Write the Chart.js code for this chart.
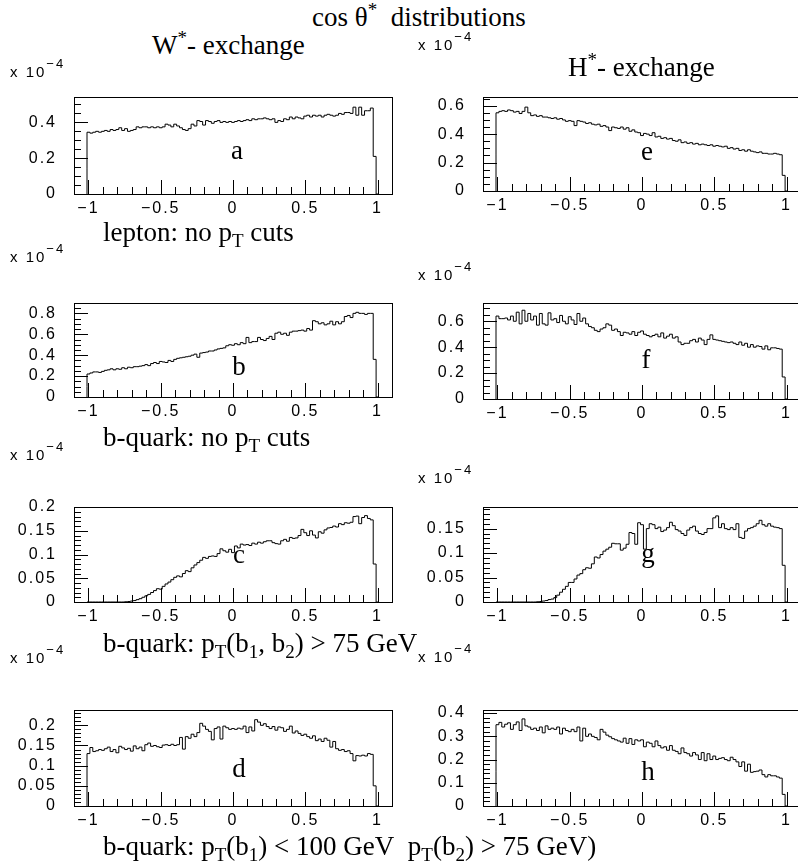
<!DOCTYPE html>
<html>
<head>
<meta charset="utf-8">
<script src="https://cdn.jsdelivr.net/npm/chart.js@4.4.0/dist/chart.umd.min.js"></script>
<style>
body { margin: 0; width: 798px; height: 866px; overflow: hidden; background: #fff; position: relative; }
canvas { position: absolute; }
.t { position: absolute; font-family: 'Liberation Serif', 'Times New Roman', serif; font-size: 27px; line-height: 27px; white-space: nowrap; color: #000; }
.t sub { font-size: 19px; vertical-align: -6px; line-height: 0; }
.t sup { font-size: 19px; vertical-align: 10px; line-height: 0; }
.m { position: absolute; font-family: 'Liberation Sans', Arial, sans-serif; font-size: 15px; line-height: 15px; letter-spacing: 2px; white-space: nowrap; color: #000; }
.m sup { font-size: 13px; position: relative; top: -9px; vertical-align: baseline; letter-spacing: 2px; }
.lt { text-align: center; width: 40px; }
</style>
</head>
<body>
<script>
// cos theta* bins: centres -1.00 ... 1.00, width 0.02 (end bins half filled)
const binWidth = 0.02;
const binCenters = [];
for (let i = 0; i <= 100; i++) binCenters.push(Math.round((-1 + i * binWidth) * 100) / 100);

const xTicks = [-1, -0.5, 0, 0.5, 1];
const xMinorTicks = [-1, -0.9, -0.8, -0.7, -0.6, -0.5, -0.4, -0.3, -0.2, -0.1, 0, 0.1, 0.2, 0.3, 0.4, 0.5, 0.6, 0.7, 0.8, 0.9, 1];

// values in units of 10^-4
// (a) W* exchange, lepton, no pT cuts
const wLepton = [0.14,
  0.345, 0.34, 0.345, 0.35, 0.345, 0.35, 0.355, 0.35, 0.36, 0.355,
  0.36, 0.37, 0.355, 0.365, 0.35, 0.355, 0.36, 0.375, 0.37, 0.375,
  0.375, 0.37, 0.375, 0.37, 0.375, 0.37, 0.375, 0.39, 0.385, 0.375,
  0.39, 0.38, 0.37, 0.36, 0.355, 0.365, 0.39, 0.38, 0.41, 0.405,
  0.385, 0.41, 0.405, 0.395, 0.405, 0.41, 0.40, 0.405, 0.40, 0.405,
  0.40, 0.405, 0.41, 0.405, 0.41, 0.415, 0.41, 0.42, 0.415, 0.42,
  0.42, 0.425, 0.42, 0.415, 0.42, 0.40, 0.41, 0.405, 0.42, 0.415,
  0.43, 0.42, 0.43, 0.425, 0.42, 0.435, 0.44, 0.43, 0.44, 0.435,
  0.44, 0.43, 0.44, 0.445, 0.44, 0.435, 0.44, 0.45, 0.445, 0.455,
  0.455, 0.45, 0.485, 0.44, 0.485, 0.44, 0.465, 0.465, 0.48, 0.21];
// (b) W* exchange, b-quark, no pT cuts
const wQuark = [0.10,
  0.22, 0.23, 0.24, 0.24, 0.235, 0.245, 0.255, 0.26, 0.27, 0.26,
  0.27, 0.265, 0.28, 0.27, 0.285, 0.28, 0.29, 0.29, 0.295, 0.30,
  0.31, 0.30, 0.32, 0.33, 0.32, 0.34, 0.335, 0.33, 0.35, 0.34,
  0.36, 0.37, 0.375, 0.38, 0.385, 0.39, 0.40, 0.41, 0.38, 0.42,
  0.425, 0.43, 0.44, 0.44, 0.45, 0.46, 0.465, 0.47, 0.49, 0.50,
  0.495, 0.51, 0.50, 0.52, 0.51, 0.57, 0.52, 0.53, 0.53, 0.57,
  0.55, 0.54, 0.56, 0.58, 0.55, 0.61, 0.62, 0.60, 0.61, 0.59,
  0.62, 0.63, 0.63, 0.635, 0.64, 0.63, 0.655, 0.64, 0.73, 0.72,
  0.70, 0.71, 0.69, 0.70, 0.725, 0.69, 0.72, 0.70, 0.72, 0.77,
  0.78, 0.76, 0.80, 0.81, 0.80, 0.80, 0.79, 0.80, 0.80, 0.36];
// (c) W* exchange, b-quark, pT(b1,b2) > 75 GeV
const wQuarkCut = [0,
  0, 0, 0, 0, 0, 0, 0, 0, 0, 0,
  0, 0, 0, 0.0005, 0.001, 0.002, 0.003, 0.005, 0.007, 0.010,
  0.013, 0.016, 0.020, 0.024, 0.028, 0.027, 0.033, 0.038, 0.042, 0.047,
  0.052, 0.055, 0.053, 0.060, 0.066, 0.064, 0.072, 0.078, 0.083, 0.088,
  0.094, 0.092, 0.096, 0.097, 0.096, 0.102, 0.112, 0.108, 0.105, 0.111,
  0.104, 0.118, 0.114, 0.122, 0.120, 0.121, 0.119, 0.124, 0.122, 0.126,
  0.124, 0.127, 0.129, 0.129, 0.125, 0.123, 0.122, 0.129, 0.132, 0.128,
  0.136, 0.134, 0.135, 0.140, 0.153, 0.146, 0.140, 0.150, 0.141, 0.135,
  0.148, 0.145, 0.152, 0.156, 0.157, 0.160, 0.158, 0.165, 0.163, 0.167,
  0.166, 0.168, 0.180, 0.181, 0.165, 0.178, 0.182, 0.176, 0.173, 0.080];
// (d) W* exchange, b-quark, pT(b1) < 100 GeV, pT(b2) > 75 GeV
const wQuarkMixed = [0.05,
  0.130, 0.145, 0.135, 0.137, 0.140, 0.138, 0.142, 0.146, 0.135, 0.140,
  0.132, 0.148, 0.144, 0.140, 0.143, 0.136, 0.149, 0.142, 0.146, 0.137,
  0.152, 0.156, 0.148, 0.150, 0.147, 0.145, 0.151, 0.152, 0.150, 0.153,
  0.150, 0.152, 0.170, 0.141, 0.172, 0.168, 0.178, 0.172, 0.182, 0.205,
  0.198, 0.190, 0.185, 0.164, 0.192, 0.196, 0.166, 0.198, 0.194, 0.190,
  0.192, 0.190, 0.193, 0.191, 0.198, 0.182, 0.196, 0.186, 0.214, 0.208,
  0.200, 0.204, 0.197, 0.192, 0.197, 0.188, 0.196, 0.194, 0.185, 0.190,
  0.198, 0.181, 0.186, 0.180, 0.175, 0.178, 0.172, 0.168, 0.174, 0.162,
  0.166, 0.160, 0.168, 0.163, 0.146, 0.160, 0.142, 0.138, 0.140, 0.135,
  0.137, 0.130, 0.112, 0.125, 0.124, 0.126, 0.124, 0.130, 0.128, 0.05];
// (e) H* exchange, lepton, no pT cuts
const hLepton = [0.26,
  0.55, 0.56, 0.565, 0.56, 0.57, 0.565, 0.555, 0.56, 0.545, 0.56,
  0.59, 0.55, 0.53, 0.535, 0.525, 0.53, 0.52, 0.52, 0.515, 0.51,
  0.515, 0.505, 0.51, 0.50, 0.49, 0.495, 0.49, 0.46, 0.495, 0.49,
  0.485, 0.475, 0.48, 0.47, 0.465, 0.47, 0.455, 0.46, 0.45, 0.425,
  0.45, 0.445, 0.44, 0.45, 0.435, 0.445, 0.42, 0.43, 0.415, 0.41,
  0.39, 0.405, 0.40, 0.39, 0.41, 0.38, 0.385, 0.37, 0.375, 0.365,
  0.37, 0.355, 0.35, 0.36, 0.34, 0.345, 0.335, 0.34, 0.33, 0.335,
  0.325, 0.33, 0.325, 0.32, 0.325, 0.315, 0.32, 0.315, 0.31, 0.315,
  0.30, 0.305, 0.295, 0.30, 0.285, 0.29, 0.28, 0.29, 0.28, 0.275,
  0.27, 0.275, 0.265, 0.265, 0.26, 0.26, 0.265, 0.26, 0.255, 0.11];
// (f) H* exchange, b-quark, no pT cuts
const hQuark = [0.27,
  0.64, 0.62, 0.62, 0.625, 0.61, 0.64, 0.60, 0.67, 0.58, 0.685,
  0.60, 0.66, 0.61, 0.64, 0.57, 0.66, 0.58, 0.57, 0.665, 0.61,
  0.62, 0.59, 0.645, 0.60, 0.58, 0.635, 0.61, 0.575, 0.66, 0.60,
  0.625, 0.58, 0.56, 0.55, 0.53, 0.52, 0.54, 0.55, 0.58, 0.57,
  0.53, 0.54, 0.52, 0.49, 0.515, 0.51, 0.50, 0.52, 0.49, 0.515,
  0.525, 0.50, 0.49, 0.48, 0.49, 0.50, 0.48, 0.51, 0.47, 0.485,
  0.50, 0.47, 0.48, 0.44, 0.42, 0.43, 0.43, 0.45, 0.46, 0.44,
  0.47, 0.455, 0.42, 0.46, 0.495, 0.46, 0.455, 0.45, 0.445, 0.44,
  0.435, 0.44, 0.43, 0.42, 0.44, 0.415, 0.43, 0.40, 0.42, 0.40,
  0.41, 0.405, 0.385, 0.41, 0.38, 0.395, 0.395, 0.39, 0.385, 0.17];
// (g) H* exchange, b-quark, pT(b1,b2) > 75 GeV
const hQuarkCut = [0,
  0, 0, 0, 0, 0, 0, 0, 0, 0, 0,
  0, 0, 0, 0, 0.0005, 0.001, 0.002, 0.003, 0.005, 0.006,
  0.009, 0.014, 0.020, 0.026, 0.032, 0.040, 0.040, 0.047, 0.055, 0.058,
  0.066, 0.070, 0.069, 0.078, 0.092, 0.090, 0.097, 0.104, 0.108, 0.112,
  0.120, 0.119, 0.119, 0.106, 0.110, 0.118, 0.142, 0.140, 0.118, 0.162,
  0.158, 0.108, 0.150, 0.160, 0.158, 0.150, 0.153, 0.144, 0.147, 0.152,
  0.163, 0.156, 0.148, 0.145, 0.140, 0.136, 0.147, 0.152, 0.155, 0.145,
  0.140, 0.138, 0.142, 0.150, 0.150, 0.172, 0.176, 0.152, 0.160, 0.150,
  0.148, 0.152, 0.148, 0.160, 0.132, 0.130, 0.145, 0.150, 0.152, 0.155,
  0.160, 0.167, 0.158, 0.155, 0.160, 0.155, 0.153, 0.152, 0.150, 0.075];
// (h) H* exchange, b-quark, pT(b1) < 100 GeV, pT(b2) > 75 GeV
const hQuarkMixed = [0.15,
  0.350, 0.360, 0.340, 0.352, 0.358, 0.330, 0.350, 0.362, 0.325, 0.375,
  0.345, 0.340, 0.330, 0.335, 0.325, 0.340, 0.315, 0.345, 0.330, 0.335,
  0.330, 0.340, 0.310, 0.335, 0.325, 0.320, 0.330, 0.320, 0.340, 0.280,
  0.335, 0.300, 0.310, 0.300, 0.295, 0.285, 0.330, 0.318, 0.305, 0.298,
  0.290, 0.285, 0.280, 0.275, 0.292, 0.270, 0.290, 0.265, 0.285, 0.280,
  0.285, 0.255, 0.275, 0.270, 0.255, 0.280, 0.260, 0.250, 0.255, 0.240,
  0.260, 0.240, 0.235, 0.225, 0.250, 0.230, 0.225, 0.215, 0.230, 0.220,
  0.200, 0.230, 0.195, 0.225, 0.200, 0.215, 0.200, 0.205, 0.208, 0.200,
  0.195, 0.210, 0.200, 0.190, 0.170, 0.190, 0.150, 0.180, 0.145, 0.148,
  0.150, 0.155, 0.135, 0.125, 0.135, 0.130, 0.130, 0.125, 0.120, 0.05];

const yTicksA = [0, 0.2, 0.4];
const yTicksB = [0, 0.2, 0.4, 0.6, 0.8];
const yTicksC = [0, 0.05, 0.1, 0.15, 0.2];
const yTicksD = [0, 0.05, 0.1, 0.15, 0.2];
const yTicksE = [0, 0.2, 0.4, 0.6];
const yTicksF = [0, 0.2, 0.4, 0.6];
const yTicksG = [0, 0.05, 0.1, 0.15];
const yTicksH = [0, 0.1, 0.2, 0.3, 0.4];

const panels = [
  { values: wLepton,     ticks: yTicksA, minor: 0.05, ymax: 0.544, left: 0,   top: 80,  bottom: 194 },
  { values: wQuark,      ticks: yTicksB, minor: 0.05, ymax: 0.903, left: 0,   top: 286, bottom: 397 },
  { values: wQuarkCut,   ticks: yTicksC, minor: 0.01, ymax: 0.201, left: 0,   top: 490, bottom: 602 },
  { values: wQuarkMixed, ticks: yTicksD, minor: 0.01, ymax: 0.239, left: 0,   top: 693, bottom: 806 },
  { values: hLepton,     ticks: yTicksE, minor: 0.05, ymax: 0.664, left: 409, top: 80,  bottom: 191 },
  { values: hQuark,      ticks: yTicksF, minor: 0.05, ymax: 0.744, left: 409, top: 286, bottom: 399 },
  { values: hQuarkCut,   ticks: yTicksG, minor: 0.01, ymax: 0.195, left: 409, top: 490, bottom: 602 },
  { values: hQuarkMixed, ticks: yTicksH, minor: 0.02, ymax: 0.415, left: 409, top: 693, bottom: 806 }
];

function histPoints(values) {
  const pts = [{ x: binCenters[0] - binWidth / 2, y: 0 }];
  values.forEach((v, i) => pts.push({ x: binCenters[i] - binWidth / 2, y: v }));
  pts.push({ x: binCenters[values.length - 1] + binWidth / 2, y: 0 });
  return pts;
}

function fmt(v) {
  const s = String(Number(Math.abs(v).toFixed(3)));
  return v < 0 ? '\u2212' + s : s;
}

// PAW style frame with inward ticks
const frameTicks = {
  id: 'frameTicks',
  afterDatasetsDraw(chart, args, opts) {
    const { ctx, chartArea: a, scales: { x, y } } = chart;
    ctx.save();
    ctx.strokeStyle = '#000';
    ctx.lineWidth = 1;
    ctx.beginPath();
    xMinorTicks.forEach(v => {
      const px = Math.round(x.getPixelForValue(v)) + 0.5;
      const len = xTicks.includes(v) ? 14 : 7;
      ctx.moveTo(px, a.bottom);
      ctx.lineTo(px, a.bottom - len);
    });
    const n = Math.floor(opts.ymax / opts.minor + 1e-6);
    for (let k = 0; k <= n; k++) {
      const v = k * opts.minor;
      const py = Math.round(y.getPixelForValue(v)) + 0.5;
      const major = opts.ticks.some(t => Math.abs(t - v) < 1e-6);
      ctx.moveTo(a.left, py);
      ctx.lineTo(a.left + (major ? 14 : 7), py);
    }
    ctx.stroke();
    ctx.strokeRect(Math.round(a.left) + 0.5, Math.round(a.top) + 0.5, Math.round(a.right - a.left), Math.round(a.bottom - a.top));
    ctx.restore();
  }
};

const spacing = {
  id: 'spacing',
  beforeDraw(chart) { chart.ctx.letterSpacing = '2px'; }
};

const tickFont = { family: "'Liberation Sans', Arial, sans-serif", size: 16 };

panels.forEach(p => {
  const c = document.createElement('canvas');
  const h = p.bottom - p.top;
  c.width = 400;
  c.height = h + 40;
  c.style.left = p.left + 'px';
  c.style.top = (p.top - 10) + 'px';
  document.body.appendChild(c);
  new Chart(c, {
    type: 'line',
    data: {
      datasets: [{
        data: histPoints(p.values),
        borderColor: '#000',
        borderWidth: 1,
        pointRadius: 0,
        stepped: 'after',
        fill: false,
        tension: 0
      }]
    },
    options: {
      responsive: false,
      animation: false,
      devicePixelRatio: 1,
      layout: { padding: { top: 10, right: 8, left: 0, bottom: 0 } },
      plugins: {
        legend: { display: false },
        tooltip: { enabled: false },
        frameTicks: { ymax: p.ymax, minor: p.minor, ticks: p.ticks }
      },
      scales: {
        x: {
          type: 'linear',
          min: -1.1,
          max: 1.1,
          grid: { display: false, drawTicks: false, tickLength: 0 },
          border: { display: false },
          ticks: { padding: 5, font: tickFont, color: '#000', maxRotation: 0, autoSkip: false, callback: fmt },
          afterBuildTicks: s => { s.ticks = xTicks.map(v => ({ value: v })); },
          afterFit: s => { s.height = 30; }
        },
        y: {
          min: 0,
          max: p.ymax,
          grid: { display: false, drawTicks: false, tickLength: 0 },
          border: { display: false },
          ticks: { padding: 17, font: tickFont, color: '#000', autoSkip: false, callback: fmt },
          afterBuildTicks: s => { s.ticks = p.ticks.map(v => ({ value: v })); },
          afterFit: s => { s.width = 74; }
        }
      }
    },
    plugins: [frameTicks, spacing]
  });
});

// text overlays (baseline positioned)
function serif(html, left, baseline, extra) {
  const d = document.createElement('div');
  d.className = 't' + (extra ? ' ' + extra : '');
  d.innerHTML = html;
  d.style.left = left + 'px';
  d.style.top = (baseline - 23) + 'px';
  document.body.appendChild(d);
}
function mult(left, baseline) {
  const d = document.createElement('div');
  d.className = 'm';
  d.innerHTML = 'x 10<sup>\u22124</sup>';
  d.style.left = left + 'px';
  d.style.top = (baseline - 13) + 'px';
  document.body.appendChild(d);
}

serif('cos \u03b8<sup>*</sup>&nbsp; distributions', 312, 27);
serif('W<sup>*</sup>- exchange', 152, 55);
serif('H<sup>*</sup>- exchange', 568, 77);
serif('lepton: no p<sub>T</sub> cuts', 103, 242);
serif('b-quark: no p<sub>T</sub> cuts', 103, 447);
serif('b-quark: p<sub>T</sub>(b<sub>1</sub>, b<sub>2</sub>) &gt; 75 GeV', 103, 653);
serif('b-quark: p<sub>T</sub>(b<sub>1</sub>) &lt; 100 GeV&nbsp; p<sub>T</sub>(b<sub>2</sub>) &gt; 75 GeV)', 103, 856);

serif('a', 217, 160, 'lt');
serif('b', 219, 376, 'lt');
serif('c', 219, 564, 'lt');
serif('d', 219, 778, 'lt');
serif('e', 627, 161, 'lt');
serif('f', 626, 369, 'lt');
serif('g', 628, 563, 'lt');
serif('h', 628, 781, 'lt');

mult(10, 77);
mult(10, 262);
mult(10, 460);
mult(10, 663);
mult(418, 50);
mult(418, 280);
mult(418, 483);
mult(418, 662);
</script>
</body>
</html>
